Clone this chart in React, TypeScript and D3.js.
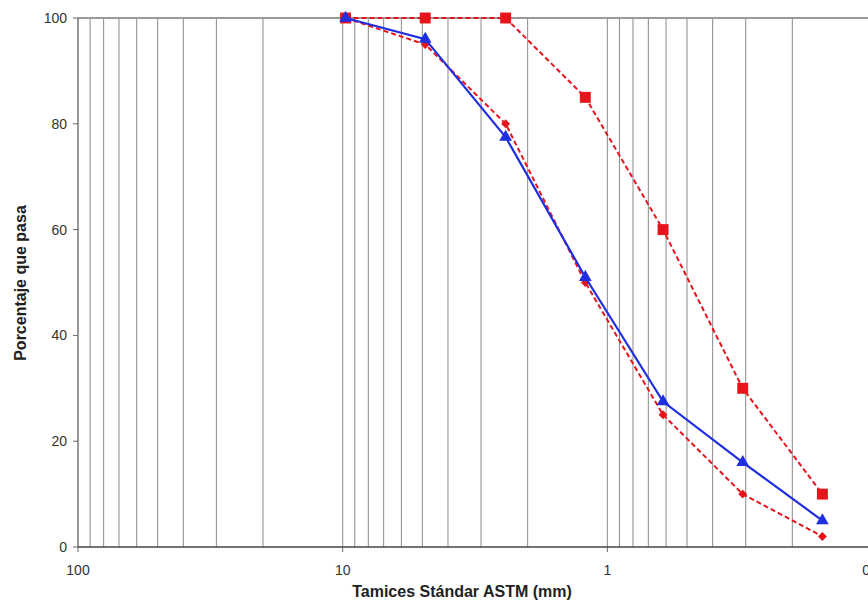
import React, { useEffect, useRef } from 'react';
import * as d3 from 'd3';

// sieve openings (mm)
const sieves = [9.5, 4.75, 2.36, 1.18, 0.6, 0.3, 0.15];
const upperLimit = [100, 100, 100, 85, 60, 30, 10];
const lowerLimit = [100, 95, 80, 50, 25, 10, 2];
const sample = [100, 96, 77.5, 51, 27.5, 16, 5];
const xTickLabels = ['100', '10', '1', '0.1'];
const yTicks = [0, 20, 40, 60, 80, 100];

const App = () => {
  const svgRef = useRef<SVGSVGElement>(null);

  useEffect(() => {
    const svg = d3.select(svgRef.current).attr('width', 868).attr('height', 602);
    svg.selectAll('*').remove();

    const left = 78;
    const right = 872;
    const top = 18;
    const bottom = 547;

    const x = d3.scaleLog().domain([100, 0.1]).range([left, right]);
    const y = d3.scaleLinear().domain([0, 100]).range([bottom, top]);

    // vertical grid at every minor log tick
    const grid: number[] = [];
    [100, 10, 1].forEach(dec => {
      for (let k = 1; k < 10; k++) grid.push((dec / 10) * k);
    });
    svg.append('g')
      .selectAll('line')
      .data(grid)
      .enter().append('line')
      .attr('x1', d => x(d))
      .attr('x2', d => x(d))
      .attr('y1', top)
      .attr('y2', bottom)
      .attr('stroke', '#8a8a8a')
      .attr('stroke-width', 1);

    // top frame line
    svg.append('line')
      .attr('x1', left).attr('x2', 868)
      .attr('y1', top).attr('y2', top)
      .attr('stroke', '#9a9a9a').attr('stroke-width', 2);

    // axes
    svg.append('line')
      .attr('x1', left).attr('x2', left)
      .attr('y1', top).attr('y2', bottom)
      .attr('stroke', '#555').attr('stroke-width', 1.2);
    svg.append('line')
      .attr('x1', left).attr('x2', 868)
      .attr('y1', bottom).attr('y2', bottom)
      .attr('stroke', '#444').attr('stroke-width', 1.5);

    svg.append('g')
      .selectAll('line')
      .data(yTicks)
      .enter().append('line')
      .attr('x1', left - 5).attr('x2', left)
      .attr('y1', d => y(d)).attr('y2', d => y(d))
      .attr('stroke', '#666');

    svg.append('g')
      .selectAll('text')
      .data(yTicks)
      .enter().append('text')
      .attr('x', 67)
      .attr('y', d => y(d) + 5)
      .attr('text-anchor', 'end')
      .attr('font-family', 'Liberation Sans, Arial, sans-serif')
      .attr('font-size', '14px')
      .attr('fill', '#333')
      .text(d => d);

    svg.append('g')
      .selectAll('line')
      .data(xTickLabels)
      .enter().append('line')
      .attr('x1', d => x(+d)).attr('x2', d => x(+d))
      .attr('y1', bottom).attr('y2', bottom + 5)
      .attr('stroke', '#666');

    svg.append('g')
      .selectAll('text')
      .data(xTickLabels)
      .enter().append('text')
      .attr('x', d => x(+d))
      .attr('y', 575)
      .attr('text-anchor', 'middle')
      .attr('font-family', 'Liberation Sans, Arial, sans-serif')
      .attr('font-size', '14px')
      .attr('fill', '#333')
      .text(d => d);

    svg.append('text')
      .attr('x', 462)
      .attr('y', 597)
      .attr('text-anchor', 'middle')
      .attr('font-family', 'Liberation Sans, Arial, sans-serif')
      .attr('font-size', '16px')
      .attr('font-weight', 'bold')
      .attr('fill', '#222')
      .text('Tamices Stándar ASTM (mm)');

    svg.append('text')
      .attr('transform', 'translate(26,283) rotate(-90)')
      .attr('text-anchor', 'middle')
      .attr('font-family', 'Liberation Sans, Arial, sans-serif')
      .attr('font-size', '16px')
      .attr('font-weight', 'bold')
      .attr('fill', '#222')
      .text('Porcentaje que pasa');

    // small leftward shift of the plotted points, as in the original
    const px = (s: number) => x(s) - 3;

    const drawSeries = (vals: number[], color: string, dash: string | null, width: number, symbol: d3.SymbolType, size: number, rot: number) => {
      const pts = sieves.map((s, i) => [px(s), y(vals[i])] as [number, number]);
      const path = svg.append('path')
        .datum(pts)
        .attr('fill', 'none')
        .attr('stroke', color)
        .attr('stroke-width', width)
        .attr('d', d3.line());
      if (dash) path.attr('stroke-dasharray', dash);
      svg.append('g')
        .selectAll('path')
        .data(pts)
        .enter().append('path')
        .attr('transform', d => `translate(${d[0]},${d[1]}) rotate(${rot})`)
        .attr('d', d3.symbol().type(symbol).size(size)())
        .attr('fill', color);
    };

    drawSeries(upperLimit, '#e8141c', '5,3', 2, d3.symbolSquare, 120, 0);
    drawSeries(lowerLimit, '#e8141c', '5,3', 2, d3.symbolSquare, 40, 45);
    drawSeries(sample, '#1f2ee0', null, 2.2, d3.symbolTriangle, 70, 0);
  }, []);

  return (
    <div>
      <svg ref={svgRef} style={{ position: 'absolute', left: 0, top: 0 }}></svg>
    </div>
  );
};

export default App;
